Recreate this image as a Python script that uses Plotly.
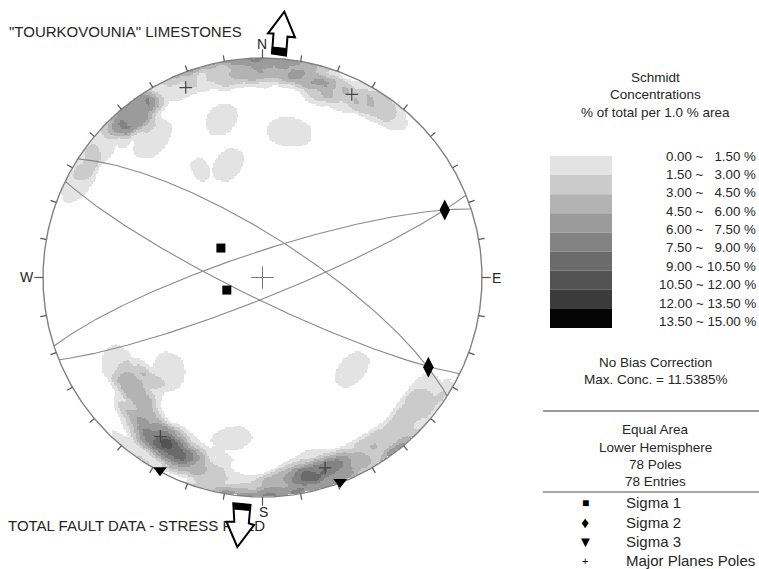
import numpy as np
import plotly.graph_objects as go

# ---------------- data ----------------
pole_trend = [341.2, 350.1, 10.2, 11.2, 321.8, 338.7, 347.8,
              320.9, 323.4, 321.8, 320.6, 322.8, 323.3, 311.7, 333.3, 319.9,
              306.4, 299.8, 295.6,
              340.0, 347.0, 353.0, 358.0, 2.0, 5.0, 9.0, 355.0, 13.0,
              13.0, 17.0, 21.0, 25.0, 31.0, 35.0, 38.0,
              235.5, 228.6, 229.2, 225.5, 227.3, 240.7, 220.9, 222.3,
              213.8, 210.5, 207.3, 207.4, 210.9, 204.0, 217.3, 204.8, 213.0, 199.3, 223.0,
              193.8, 187.5, 197.0,
              191.7, 183.9, 177.4, 172.5,
              166.6, 163.0, 160.1, 157.3, 165.1, 162.3, 170.0, 153.9, 149.6, 144.8, 173.7,
              139.4, 133.0, 128.7, 124.7,
              136.4, 135.3]
pole_plunge = [25.1, 28.0, 30.1, 35.9, 42.4, 42.5, 48.1,
               3.2, 5.4, 5.8, 5.3, 8.5, 23.0, 6.4, 4.9, 18.0,
               4.0, 3.6, 8.7,
               5.0, 6.0, 5.0, 4.0, 6.0, 3.0, 5.0, 12.0, 4.0,
               12.0, 8.0, 12.0, 9.0, 6.0, 8.0, 4.0,
               25.0, 37.7, 26.0, 26.5, 20.2, 22.5, 41.0, 18.2,
               13.0, 13.5, 14.2, 9.3, 8.1, 11.0, 14.8, 17.0, 17.1, 7.8, 9.0,
               29.2, 22.7, 11.7,
               5.4, 3.3, 3.4, 4.6,
               11.8, 11.7, 7.5, 4.4, 6.2, 5.7, 8.0, 8.3, 8.6, 8.0, 6.9,
               8.1, 9.0, 10.2, 9.2,
               44.7, 37.0]

plane_dipdir = [32.7, 206.0, 341.8, 158.0]
plane_dip = [75.0, 82.0, 80.4, 82.6]

sigma1_trend = [305.3, 250.6]
sigma1_plunge = [71.1, 76.0]
sigma2_trend = [69.7, 118.4]
sigma2_plunge = [12.5, 15.2]
sigma3_trend = [208.0, 159.2]
sigma3_plunge = [0.6, 0.4]

conc_levels = [0.0, 1.5, 3.0, 4.5, 6.0, 7.5, 9.0, 10.5, 12.0, 13.5, 15.0]
band_colors = ['#e3e3e3', '#cbcbcb', '#b3b3b3', '#9b9b9b', '#838383',
               '#6b6b6b', '#535353', '#3b3b3b', '#050505']
tick_step = 10
count_area_pct = 1.0

# ---------------- layout constants ----------------
W, H = 759, 569
CX, CY, R = 262.5, 277.5, 219.5
FONT = "Liberation Sans, Arial, sans-serif"
TXT = "#262626"


def proj(trend, plunge):
    t = np.radians(np.asarray(trend, float))
    p = np.radians(np.asarray(plunge, float))
    r = np.sqrt(2) * np.sin((np.pi / 2 - p) / 2)
    return r * np.sin(t), r * np.cos(t)


def great_circle(dd, dip):
    th = np.radians(np.linspace(0, 180, 241))
    sd = np.radians(dd - 90)
    s = np.array([np.sin(sd), np.cos(sd), 0.0])
    d, dp = np.radians(dd), np.radians(dip)
    v = np.array([np.sin(d) * np.cos(dp), np.cos(d) * np.cos(dp), -np.sin(dp)])
    u = np.outer(np.cos(th), s) + np.outer(np.sin(th), v)
    plunge = np.degrees(np.arcsin(np.clip(-u[:, 2], -1, 1)))
    trend = np.degrees(np.arctan2(u[:, 0], u[:, 1]))
    return proj(trend, plunge)


# ---------------- Schmidt counting density (soft-edged counting circle) ----------------
N = 301
g = np.linspace(-1, 1, N)
GX, GY = np.meshgrid(g, g)
rr = np.hypot(GX, GY)
inside = rr <= 1.0
theta = 2 * np.arcsin(np.clip(rr / np.sqrt(2), 0, 1))
az = np.arctan2(GX, GY)
gv = np.stack([np.sin(theta) * np.sin(az), np.sin(theta) * np.cos(az), -np.cos(theta)], -1).reshape(-1, 3)
tp, pp = np.radians(pole_trend), np.radians(pole_plunge)
pv = np.stack([np.cos(pp) * np.sin(tp), np.cos(pp) * np.cos(tp), -np.sin(pp)], -1)
alpha = np.arccos(1 - count_area_pct / 100.0)
ang = np.arccos(np.clip(np.abs(gv @ pv.T), 0, 1))
a_lo, a_hi = 0.8 * alpha, 1.2 * alpha
wgt = np.clip((a_hi - ang) / (a_hi - a_lo), 0, 1)
count = wgt.sum(1).reshape(N, N)
conc = count / len(pole_trend) * 100
band = np.floor(conc / (conc_levels[1] - conc_levels[0]))
z = np.where(inside & (band >= 1), band, np.nan)

nb = len(band_colors)
cs = []
for i, c in enumerate(band_colors):
    cs.append([i / nb, c])
    cs.append([(i + 1) / nb, c])

fig = go.Figure()
fig.add_trace(go.Heatmap(x=g, y=g, z=z, colorscale=cs, zmin=0.5, zmax=nb + 0.5,
                         showscale=False, hoverinfo='skip', zsmooth=False))

# great circles
for dd, dip in zip(plane_dipdir, plane_dip):
    x, y = great_circle(dd, dip)
    fig.add_trace(go.Scatter(x=x, y=y, mode='lines', line=dict(color='#8a8a8a', width=1.1),
                             hoverinfo='skip', showlegend=False))

# primitive circle
a = np.radians(np.linspace(0, 360, 721))
fig.add_trace(go.Scatter(x=np.sin(a), y=np.cos(a), mode='lines',
                         line=dict(color='#808080', width=1.4), hoverinfo='skip', showlegend=False))

# ticks
tx, ty = [], []
for azd in range(0, 360, tick_step):
    ar = np.radians(azd)
    L = 1.04 if azd % 90 == 0 else 1.028
    tx += [np.sin(ar), L * np.sin(ar), None]
    ty += [np.cos(ar), L * np.cos(ar), None]
fig.add_trace(go.Scatter(x=tx, y=ty, mode='lines', line=dict(color='#555555', width=1.2),
                         hoverinfo='skip', showlegend=False))

# center cross
fig.add_trace(go.Scatter(x=[0], y=[0], mode='markers',
                         marker=dict(symbol='cross-thin', size=16, line=dict(color='#777777', width=1)),
                         hoverinfo='skip', showlegend=False))

# major plane poles
ppx, ppy = proj([(d + 180) % 360 for d in plane_dipdir], [90 - d for d in plane_dip])
fig.add_trace(go.Scatter(x=ppx, y=ppy, mode='markers',
                         marker=dict(symbol='cross-thin', size=9, line=dict(color='#444444', width=1.2)),
                         hoverinfo='skip', showlegend=False))

# sigma axes
for tr, pl, sym, sz in [(sigma1_trend, sigma1_plunge, 'square', 9),
                        (sigma2_trend, sigma2_plunge, 'diamond-tall', 15),
                        (sigma3_trend, sigma3_plunge, 'triangle-down', 12)]:
    x, y = proj(tr, pl)
    fig.add_trace(go.Scatter(x=x, y=y, mode='markers',
                             marker=dict(symbol=sym, size=sz, color='black'),
                             hoverinfo='skip', showlegend=False))

# bottom title (as trace so the arrow can cover it)
fig.add_trace(go.Scatter(x=[(8 - CX) / R], y=[(CY - 527) / R], mode='text',
                         text=['TOTAL FAULT DATA - STRESS FIELD'], textposition='middle right',
                         textfont=dict(family=FONT, size=15, color=TXT),
                         hoverinfo='skip', showlegend=False))


def P(x, y):
    return x / W, 1 - y / H


annots = []


def ann(text, x, y, size=13.5, xanchor='center', color=TXT):
    px, py = P(x, y)
    annots.append(dict(text=text, x=px, y=py, xref='paper', yref='paper', showarrow=False,
                       xanchor=xanchor, yanchor='middle', font=dict(family=FONT, size=size, color=color)))


ann('"TOURKOVOUNIA" LIMESTONES', 7, 31, 15, 'left')
ann('N', 262, 44, 14)
ann('S', 263, 512, 14)
ann('W', 27, 277, 14)
ann('E', 496, 278, 14)

ann('Schmidt', 655, 77)
ann('Concentrations', 655, 94.5)
ann('% of total per 1.0 % area', 655, 112)

for i in range(len(conc_levels) - 1):
    lo, hi = conc_levels[i], conc_levels[i + 1]
    pad = '\u00a0\u00a0' if hi < 10 else ''
    ann(f'{lo:.2f} ~ {pad}{hi:.2f} %', 758, 156 + 18.4 * i, 13.3, 'right')

ann('No Bias Correction', 655, 362)
ann('Max. Conc. = 11.5385%', 655, 379)
ann('Equal Area', 655, 429)
ann('Lower Hemisphere', 655, 447)
ann('78 Poles', 655, 464)
ann('78 Entries', 655, 481)

leg_items = ['Sigma 1', 'Sigma 2', 'Sigma 3', 'Major Planes Poles']
leg_syms = ['\u25a0', '\u2666', '\u25bc', '+']
leg_sizes = [12, 16, 15, 11]
for i, (t, s, sz) in enumerate(zip(leg_items, leg_syms, leg_sizes)):
    yy = 503 + 19.3 * i
    ann(t, 624, yy, 15, 'left')
    ann(s, 585, yy, sz, 'center', color='black')

shapes = []
# legend swatches
sw_top, sw_bot = 156, 328
step = (sw_bot - sw_top) / nb
for i, c in enumerate(band_colors):
    x0, y0 = P(550, sw_top + i * step)
    x1, y1 = P(612, sw_top + (i + 1) * step)
    shapes.append(dict(type='rect', xref='paper', yref='paper', x0=x0, x1=x1, y0=y1, y1=y0,
                       fillcolor=c, line=dict(width=0), layer='above'))
for yl, wdt, col in [(411, 2, '#9a9a9a'), (492, 1.5, '#8a8a8a')]:
    x0, y0 = P(543, yl)
    x1, _ = P(759, yl)
    shapes.append(dict(type='line', xref='paper', yref='paper', x0=x0, x1=x1, y0=y0, y1=y0,
                       line=dict(color=col, width=wdt), layer='above'))


def path(pts):
    s = ''
    for k, (x, y) in enumerate(pts):
        px, py = P(x, y)
        s += ('M' if k == 0 else 'L') + f'{px:.5f},{py:.5f}'
    return s + 'Z'


n_arrow = [(284.3, 11.7), (295, 37.3), (287.5, 36.7), (286, 55.5), (272, 53.5), (273.5, 33.5), (268, 33.3)]
n_base = [(272.3, 47), (286.3, 48.5), (286, 55.5), (272, 53.5)]
s_arrow = [(233.3, 503.3), (250.5, 505), (248.8, 523.3), (254, 525), (237.3, 547), (226.5, 521.7), (234.3, 521.7)]
s_base = [(233.3, 503.3), (250.5, 505), (250.1, 510.5), (233.5, 509)]
for arrow, base in [(n_arrow, n_base), (s_arrow, s_base)]:
    shapes.append(dict(type='path', xref='paper', yref='paper', path=path(arrow),
                       fillcolor='white', line=dict(color='black', width=2), layer='above'))
    shapes.append(dict(type='path', xref='paper', yref='paper', path=path(base),
                       fillcolor='black', line=dict(color='black', width=1), layer='above'))

fig.update_layout(
    width=W, height=H, autosize=False,
    margin=dict(l=0, r=0, t=0, b=0),
    paper_bgcolor='white', plot_bgcolor='white',
    xaxis=dict(range=[(0 - CX) / R, (W - CX) / R], visible=False, fixedrange=True),
    yaxis=dict(range=[(CY - H) / R, CY / R], visible=False, fixedrange=True),
    showlegend=False,
    annotations=annots,
    shapes=shapes,
)

fig.write_html("out.html", config={'displayModeBar': False},
               post_script="document.body.style.margin='0px';document.body.style.overflow='hidden';")
